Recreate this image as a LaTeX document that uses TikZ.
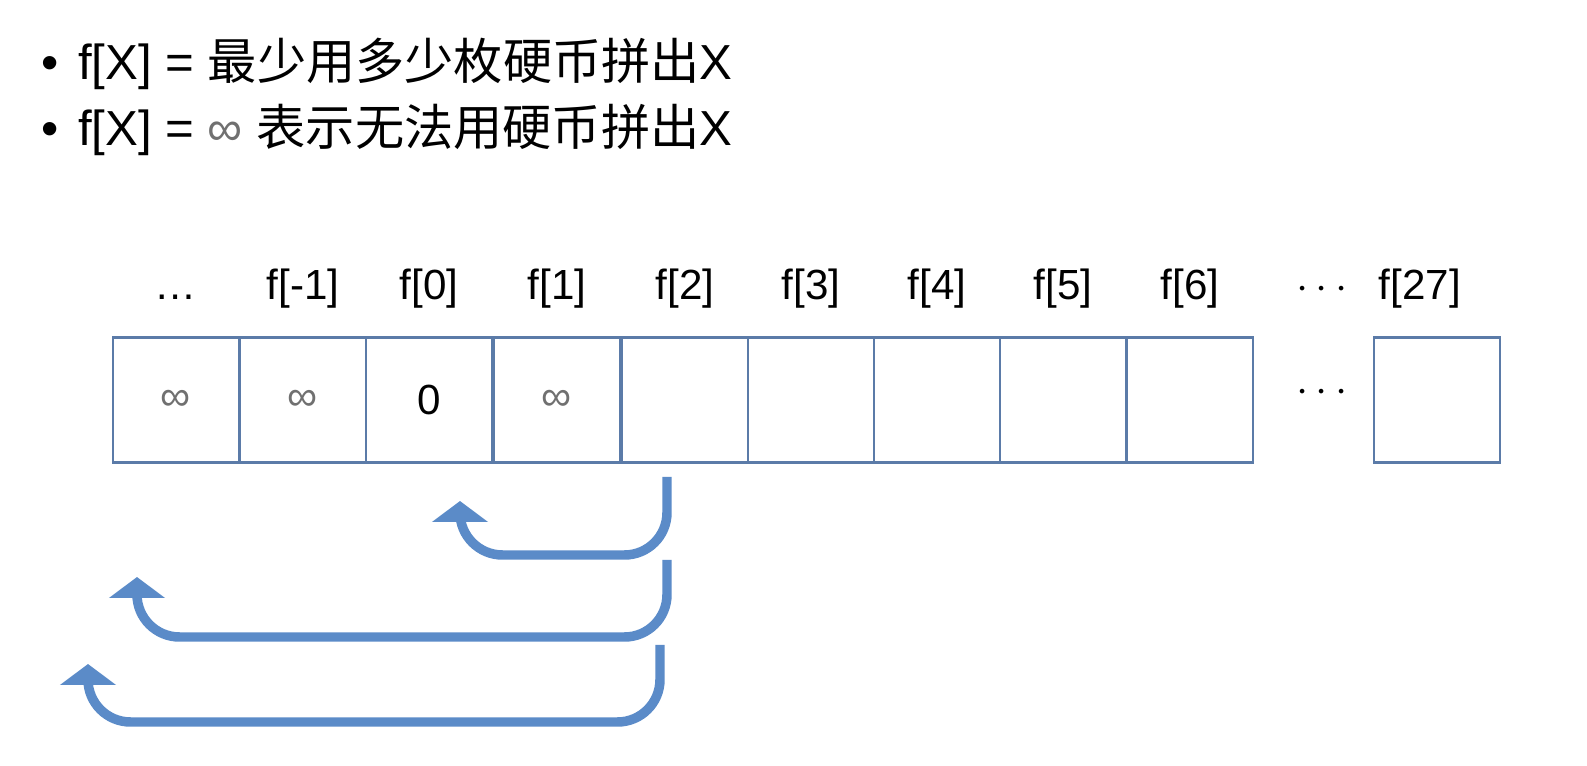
\documentclass[tikz,border=0pt]{standalone}
\usepackage{fontspec}
\setmainfont{Liberation Sans}
\newfontfamily\cjk{Noto Sans CJK SC}
\usetikzlibrary{arrows.meta}
\definecolor{cellblue}{HTML}{5B7BA8}
\definecolor{arrowblue}{HTML}{5B8BC8}
\definecolor{infgray}{HTML}{707070}

\begin{document}
\begin{tikzpicture}[x=0.02cm,y=-0.02cm,
    cell/.style ={rectangle, draw=cellblue, line width=1.6pt,
      minimum width=2.52cm, minimum height=2.5cm, inner sep=0pt, font=\fontsize{24}{26}\selectfont},
    label_top/.style ={font=\fontsize{24}{26}\selectfont, anchor=base},
    line_bullet/.style ={anchor=base west, font=\fontsize{28}{32}\selectfont},
    back/.style ={draw=arrowblue, line width=5.4pt, rounded corners=0.85cm,
      -{Triangle[width=1.1cm,length=0.42cm]}}]
    % page frame
    \useasboundingbox (0,0) rectangle (1587,766);
    % the two bullet lines
    \node [line_bullet] (b1) at (35,80) {\textbullet\hspace{0.4em}f[X] = {\cjk 最少用多少枚硬币拼出}X};
    \node [line_bullet] (b2) at (35,146) {\textbullet\hspace{0.4em}f[X] = {\color{infgray}∞} {\cjk 表示无法用硬币拼出}X};
    % the array
    \foreach \x/\n/\v/\c in {176/m2/∞/infgray, 303/m1/∞/infgray, 429/z/0/black, 557/p1/∞/infgray,
        685/p2//black, 811/p3//black, 937/p4//black, 1063/p5//black, 1190/p6//black, 1437/p27//black}
      \node [cell, text=\c] (c\n) at (\x,400) {\v};
    \foreach \x/\t in {176/…, 303/f[-1], 429/f[0], 557/f[1], 685/f[2], 811/f[3], 937/f[4], 1063/f[5], 1190/f[6], 1322/$\cdots$, 1420/f[27]}
      \node [label_top] at (\x,300) {\t};
    \node [font=\fontsize{24}{26}\selectfont] (dots) at (1322,393) {$\cdots$};
    % arrows back from f[2]
    \coordinate (s1) at (667,477);
    \coordinate (s2) at (667,560);
    \coordinate (s3) at (660,645);
    \coordinate (e1) at (460,501);
    \coordinate (e2) at (137,577);
    \coordinate (e3) at (88,664);
    \begin{scope}[every path/.style=back]
      \path (s1) |- (460,555) -- (e1);
      \path (s2) |- (137,637) -- (e2);
      \path (s3) |- (88,722) -- (e3);
    \end{scope}
\end{tikzpicture}
\end{document}
